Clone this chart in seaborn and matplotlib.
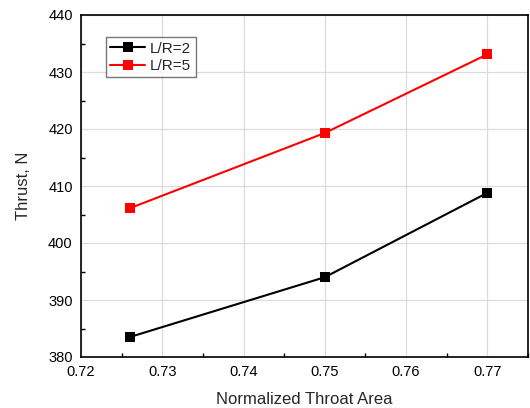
import matplotlib
matplotlib.use("Agg")
import matplotlib.pyplot as plt
from matplotlib.ticker import MultipleLocator
import seaborn as sns
import pandas as pd

throat_area = [0.726, 0.750, 0.770]
thrust_lr2 = [383.5, 394.0, 408.8]
thrust_lr5 = [406.1, 419.3, 433.1]
series_names = ["L/R=2", "L/R=5"]
series_colors = ["black", "red"]

df = pd.DataFrame({
    "area": throat_area * 2,
    "thrust": thrust_lr2 + thrust_lr5,
    "case": [series_names[0]] * 3 + [series_names[1]] * 3,
})

sns.set_style("white")
plt.rcParams["font.family"] = ["Liberation Sans", "DejaVu Sans"]

fig = plt.figure(figsize=(5.3, 4.08), dpi=100)
ax = fig.add_axes([81 / 530, 1 - 357 / 408, (528 - 81) / 530, (357 - 15) / 408])

sns.lineplot(data=df, x="area", y="thrust", hue="case", palette=series_colors,
             marker="s", markersize=6.5, markeredgewidth=0, linewidth=1.5, ax=ax)

ax.set_xlim(0.72, 0.775)
ax.set_ylim(380, 440)
ax.xaxis.set_major_locator(MultipleLocator(0.01))
ax.xaxis.set_minor_locator(MultipleLocator(0.005))
ax.yaxis.set_major_locator(MultipleLocator(10))
ax.yaxis.set_minor_locator(MultipleLocator(5))
ax.xaxis.set_major_formatter(matplotlib.ticker.FormatStrFormatter("%.2f"))
ax.grid(True, which="major", color="#dcdcdc", linewidth=0.9)
ax.set_axisbelow(True)

ax.tick_params(which="both", direction="in", top=False, right=False,
               labelsize=10.5, colors="black")
ax.tick_params(which="major", length=5, width=1, pad=6)
ax.tick_params(which="minor", length=3, width=1, bottom=True, left=True)
for s in ax.spines.values():
    s.set_color("black")
    s.set_linewidth(1.2)

ax.set_xlabel("Normalized Throat Area", fontsize=12, labelpad=9)
ax.set_ylabel("Thrust, N", fontsize=12, labelpad=12)

leg = ax.legend(loc="upper left", bbox_to_anchor=(0.055, 0.935), fontsize=11,
                frameon=True, fancybox=False, handlelength=2.3,
                borderpad=0.3, labelspacing=0.2, handletextpad=0.3,
                borderaxespad=0)
leg.get_frame().set_edgecolor("#555555")
leg.get_frame().set_linewidth(1.0)

fig.savefig("out.png", dpi=100)
